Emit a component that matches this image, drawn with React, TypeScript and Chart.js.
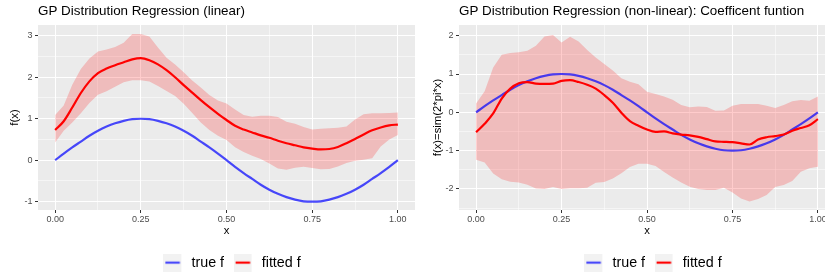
import React, { useEffect, useRef } from 'react';
import { Chart, registerables } from 'chart.js';

Chart.register(...registerables);
Chart.defaults.font.family = '"Liberation Sans", Arial, Helvetica, sans-serif';

// ---------- data ----------
const X_GRID = [0, 0.025, 0.05, 0.075, 0.1, 0.125, 0.15, 0.175, 0.2, 0.225, 0.25, 0.275, 0.3, 0.325, 0.35, 0.375, 0.4, 0.425, 0.45, 0.475, 0.5, 0.525, 0.55, 0.575, 0.6, 0.625, 0.65, 0.675, 0.7, 0.725, 0.75, 0.775, 0.8, 0.825, 0.85, 0.875, 0.9, 0.925, 0.95, 0.975, 1];

const TRUE_F = [0, 0.16, 0.31, 0.45, 0.59, 0.71, 0.81, 0.89, 0.95, 0.99, 1.0, 0.99, 0.95, 0.89, 0.81, 0.71, 0.59, 0.45, 0.31, 0.16, 0, -0.16, -0.31, -0.45, -0.59, -0.71, -0.81, -0.89, -0.95, -0.99, -1.0, -0.99, -0.95, -0.89, -0.81, -0.71, -0.59, -0.45, -0.31, -0.16, 0];

const LIN_FIT = [0.73, 0.94, 1.27, 1.62, 1.90, 2.10, 2.21, 2.29, 2.36, 2.43, 2.46, 2.41, 2.31, 2.17, 2.00, 1.81, 1.63, 1.45, 1.28, 1.12, 0.97, 0.83, 0.74, 0.67, 0.60, 0.54, 0.47, 0.41, 0.36, 0.31, 0.28, 0.26, 0.27, 0.32, 0.41, 0.51, 0.62, 0.72, 0.79, 0.84, 0.86];
const LIN_UPPER = [1.09, 1.32, 1.82, 2.20, 2.45, 2.62, 2.67, 2.73, 2.83, 3.04, 3.04, 2.98, 2.72, 2.47, 2.31, 2.12, 1.92, 1.75, 1.57, 1.44, 1.37, 1.22, 1.09, 1.05, 1.07, 1.07, 1.04, 0.93, 0.88, 0.80, 0.74, 0.76, 0.77, 0.78, 0.81, 0.98, 1.11, 1.13, 1.13, 1.14, 1.15];
const LIN_LOWER = [0.43, 0.71, 0.91, 1.13, 1.38, 1.58, 1.66, 1.77, 1.88, 1.93, 1.93, 1.90, 1.79, 1.67, 1.55, 1.36, 1.14, 0.91, 0.73, 0.59, 0.49, 0.31, 0.20, 0.11, 0.03, -0.08, -0.20, -0.23, -0.18, -0.16, -0.19, -0.22, -0.21, -0.15, -0.07, -0.01, 0.01, 0.05, 0.33, 0.50, 0.61];

const NL_FIT = [-0.52, -0.30, -0.03, 0.36, 0.62, 0.76, 0.79, 0.75, 0.74, 0.75, 0.82, 0.84, 0.79, 0.72, 0.62, 0.45, 0.25, -0.01, -0.23, -0.35, -0.45, -0.51, -0.50, -0.55, -0.58, -0.60, -0.64, -0.70, -0.76, -0.77, -0.78, -0.81, -0.84, -0.71, -0.65, -0.62, -0.58, -0.48, -0.41, -0.34, -0.18];
const NL_UPPER = [0.23, 0.55, 1.17, 1.50, 1.55, 1.57, 1.61, 1.74, 1.98, 2.02, 1.82, 1.97, 1.85, 1.63, 1.43, 1.26, 1.09, 0.89, 0.80, 0.73, 0.54, 0.48, 0.41, 0.33, 0.19, 0.13, 0.15, 0.14, 0.04, 0.05, 0.17, 0.22, 0.22, 0.22, 0.17, 0.11, 0.19, 0.29, 0.32, 0.30, 0.41];
const NL_LOWER = [-1.24, -1.31, -1.60, -1.75, -1.81, -1.83, -1.89, -1.99, -2.00, -1.95, -2.00, -1.98, -1.98, -1.97, -1.84, -1.82, -1.73, -1.59, -1.43, -1.34, -1.34, -1.40, -1.56, -1.70, -1.83, -1.94, -2.00, -2.03, -2.03, -1.97, -2.09, -2.25, -2.33, -2.26, -2.16, -1.95, -1.90, -1.79, -1.55, -1.46, -1.42];

const X_TICKS = [0, 0.25, 0.5, 0.75, 1];
const X_TICK_LABELS = ['0.00', '0.25', '0.50', '0.75', '1.00'];
const X_MINOR = [0.125, 0.375, 0.625, 0.875];

const LIN_Y_TICKS = [-1, 0, 1, 2, 3];
const LIN_Y_LABELS = ['-1', '0', '1', '2', '3'];
const LIN_Y_MINOR = [-0.5, 0.5, 1.5, 2.5];

const NL_Y_TICKS = [-2, -1, 0, 1, 2];
const NL_Y_LABELS = ['-2', '-1', '0', '1', '2'];
const NL_Y_MINOR = [-2.5, -1.5, -0.5, 0.5, 1.5];

const SERIES_NAMES = ['true f', 'fitted f'];
const TITLES = ['GP Distribution Regression (linear)', 'GP Distribution Regression (non-linear): Coefficent funtion'];
const Y_TITLES = ['f(x)', 'f(x)=sim(2*pi*x)'];
const X_TITLE = 'x';

// ---------- styles ----------
const FONT = '"Liberation Sans", Arial, Helvetica, sans-serif';
const BLUE = 'rgba(0,0,255,0.7)';
const RED = '#FF0000';
const RIBBON = 'rgba(255,0,0,0.2)';
const PANEL_BG = '#EBEBEB';
const LEGEND_CX = 232;
const LEGEND_TOP = 245.9;

const pts = (ys: number[]) => X_GRID.map((x, i) => ({ x, y: ys[i] }));

function keyImage(color: string) {
  const c = document.createElement('canvas');
  c.width = 21;
  c.height = 18;
  const g = c.getContext('2d')!;
  g.fillStyle = '#F2F2F2';
  g.fillRect(0, 0, 18, 18);
  g.strokeStyle = color;
  g.lineWidth = 2.2;
  g.beginPath();
  g.moveTo(2, 9);
  g.lineTo(16.5, 9);
  g.stroke();
  return c;
}

const ggPlugin = {
  id: 'ggPlugin',
  beforeDraw(chart: any) {
    const { ctx, chartArea: a } = chart;
    ctx.save();
    ctx.fillStyle = PANEL_BG;
    ctx.fillRect(a.left, a.top, a.right - a.left, a.bottom - a.top);
    ctx.restore();
  },
  afterLayout(chart: any) {
    const tb = chart.titleBlock;
    if (tb) tb.left = chart.chartArea.left;
    const lg = chart.legend;
    if (lg) {
      const w = lg.width;
      lg.left = LEGEND_CX - w / 2;
      lg.right = LEGEND_CX + w / 2;
      lg.top = LEGEND_TOP;
      lg.bottom = LEGEND_TOP + lg.height;
    }
  },
};

function isIn(list: number[], v: number) {
  return list.some((t) => Math.abs(t - v) < 1e-9);
}

function makeConfig(p: {
  title: string; yTitle: string; yTitlePad: number;
  yMin: number; yMax: number; yTicks: number[]; yLabels: string[]; yMinor: number[];
  fit: number[]; upper: number[]; lower: number[];
}) {
  const xAll = [...X_TICKS, ...X_MINOR].sort((a, b) => a - b);
  const yAll = [...p.yTicks, ...p.yMinor].sort((a, b) => a - b);
  const blueKey = keyImage(BLUE);
  const redKey = keyImage(RED);
  return {
    type: 'line',
    data: {
      datasets: [
        { label: SERIES_NAMES[1], data: pts(p.fit), borderColor: RED, borderWidth: 2.2, pointRadius: 0, fill: false, cubicInterpolationMode: 'monotone' },
        { label: SERIES_NAMES[0], data: pts(TRUE_F), borderColor: BLUE, borderWidth: 2.2, pointRadius: 0, fill: false, cubicInterpolationMode: 'monotone' },
        { label: 'upper', data: pts(p.upper), borderWidth: 0, borderColor: 'rgba(0,0,0,0)', backgroundColor: RIBBON, pointRadius: 0, fill: '+1', tension: 0 },
        { label: 'lower', data: pts(p.lower), borderWidth: 0, borderColor: 'rgba(0,0,0,0)', pointRadius: 0, fill: false, tension: 0 },
      ],
    },
    options: {
      animation: false,
      responsive: false,
      devicePixelRatio: 1,
      events: [],
      layout: { padding: { left: 0, right: 6, top: 0, bottom: 0 } },
      scales: {
        x: {
          type: 'linear',
          min: -0.05,
          max: 1.05,
          afterBuildTicks: (s: any) => { s.ticks = xAll.map((v) => ({ value: v })); },
          afterFit: (s: any) => { s.height = 36; },
          border: { display: false },
          grid: {
            color: '#FFFFFF',
            lineWidth: (c: any) => (isIn(X_TICKS, c.tick.value) ? 1 : 0.5),
            tickColor: (c: any) => (isIn(X_TICKS, c.tick.value) ? '#333333' : 'rgba(0,0,0,0)'),
            tickWidth: 1,
            tickLength: 3,
          },
          ticks: {
            autoSkip: false,
            maxRotation: 0,
            padding: 1,
            color: '#4D4D4D',
            font: { size: 9, family: FONT },
            callback: (v: number) => {
              const i = X_TICKS.findIndex((t) => Math.abs(t - v) < 1e-9);
              return i >= 0 ? X_TICK_LABELS[i] : '';
            },
          },
          title: { display: true, text: X_TITLE, color: '#000000', font: { size: 11.3, family: FONT }, padding: { top: 0, bottom: 8.4 } },
        },
        y: {
          type: 'linear',
          min: p.yMin,
          max: p.yMax,
          afterBuildTicks: (s: any) => { s.ticks = yAll.map((v) => ({ value: v })); },
          afterFit: (s: any) => { s.width = 38; },
          border: { display: false },
          grid: {
            color: '#FFFFFF',
            lineWidth: (c: any) => (isIn(p.yTicks, c.tick.value) ? 1 : 0.5),
            tickColor: (c: any) => (isIn(p.yTicks, c.tick.value) ? '#333333' : 'rgba(0,0,0,0)'),
            tickWidth: 1,
            tickLength: 3,
          },
          ticks: {
            autoSkip: false,
            padding: 2.5,
            color: '#4D4D4D',
            font: { size: 9, family: FONT },
            callback: (v: number) => {
              const i = p.yTicks.findIndex((t) => Math.abs(t - v) < 1e-9);
              return i >= 0 ? p.yLabels[i] : '';
            },
          },
          title: { display: true, text: p.yTitle, color: '#000000', font: { size: 11.3, family: FONT }, padding: { top: p.yTitlePad, bottom: 0 } },
        },
      },
      plugins: {
        tooltip: { enabled: false },
        title: {
          display: true,
          text: p.title,
          align: 'start',
          color: '#000000',
          font: { size: 13.4, weight: 'normal', family: FONT },
          padding: { top: 3.3, bottom: 5.6 },
        },
        legend: {
          display: true,
          position: 'bottom',
          align: 'center',
          maxHeight: 30,
          onClick: () => {},
          labels: {
            usePointStyle: true,
            pointStyleWidth: 21,
            padding: 9.55,
            color: '#000000',
            font: { size: 14.3, family: FONT },
            generateLabels: () => [
              { text: SERIES_NAMES[0], pointStyle: blueKey, fillStyle: 'rgba(0,0,0,0)', strokeStyle: 'rgba(0,0,0,0)', lineWidth: 0, hidden: false, datasetIndex: 1, fontColor: '#000000' },
              { text: SERIES_NAMES[1], pointStyle: redKey, fillStyle: 'rgba(0,0,0,0)', strokeStyle: 'rgba(0,0,0,0)', lineWidth: 0, hidden: false, datasetIndex: 0, fontColor: '#000000' },
            ],
          },
        },
      },
    },
    plugins: [ggPlugin],
  };
}

function Panel(props: { cfg: () => any; left: number; width: number }) {
  const ref = useRef<HTMLCanvasElement>(null);
  useEffect(() => {
    if (!ref.current) return;
    const chart = new Chart(ref.current, props.cfg());
    return () => chart.destroy();
  }, []);
  return (
    <canvas
      ref={ref}
      width={props.width}
      height={276}
      style={{ position: 'absolute', left: props.left, top: 0, width: props.width, height: 276 }}
    />
  );
}

export default function App() {
  return (
    <div style={{ position: 'fixed', left: 0, top: 0, width: 825, height: 276, overflow: 'hidden', background: '#FFFFFF' }}>
      <Panel
        left={0}
        width={421}
        cfg={() => makeConfig({
          title: TITLES[0], yTitle: Y_TITLES[0], yTitlePad: 8.2,
          yMin: -1.2, yMax: 3.26, yTicks: LIN_Y_TICKS, yLabels: LIN_Y_LABELS, yMinor: LIN_Y_MINOR,
          fit: LIN_FIT, upper: LIN_UPPER, lower: LIN_LOWER,
        })}
      />
      <Panel
        left={421}
        width={420}
        cfg={() => makeConfig({
          title: TITLES[1], yTitle: Y_TITLES[1], yTitlePad: 10.4,
          yMin: -2.55, yMax: 2.28, yTicks: NL_Y_TICKS, yLabels: NL_Y_LABELS, yMinor: NL_Y_MINOR,
          fit: NL_FIT, upper: NL_UPPER, lower: NL_LOWER,
        })}
      />
    </div>
  );
}
